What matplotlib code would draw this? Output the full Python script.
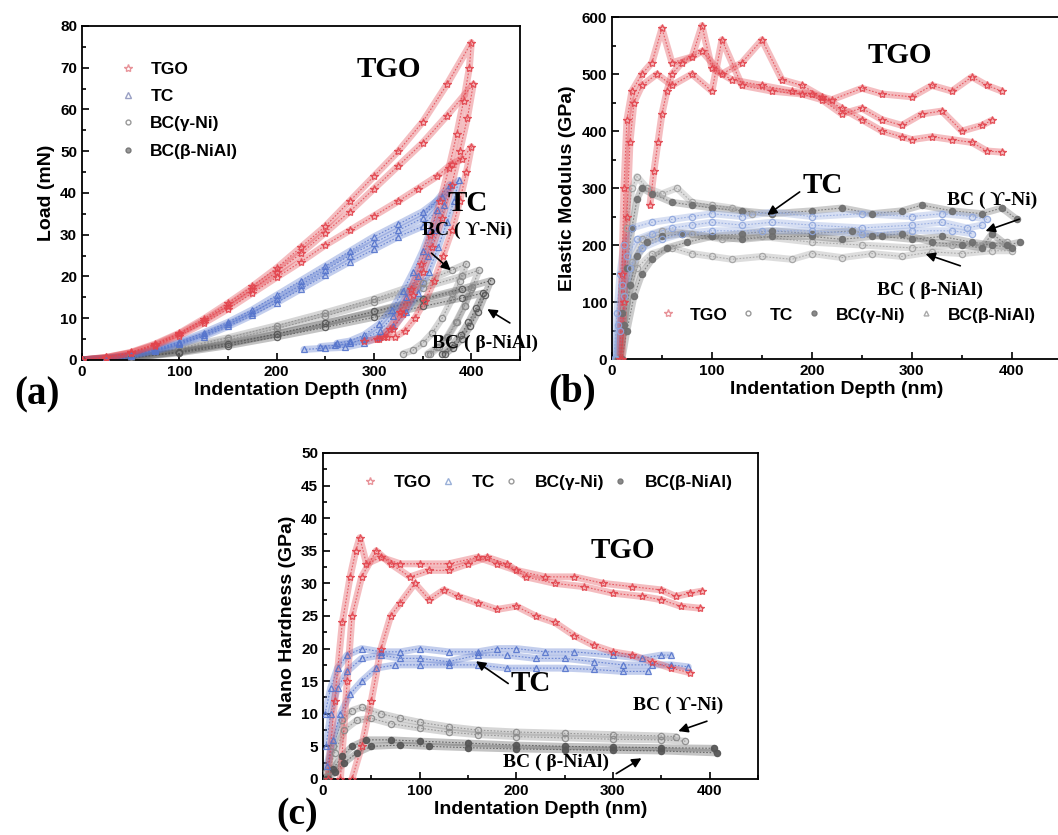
import matplotlib
matplotlib.use("Agg")
import matplotlib.pyplot as plt
from matplotlib.lines import Line2D
from matplotlib.ticker import MultipleLocator

plt.rcParams['font.family'] = ['Liberation Sans', 'DejaVu Sans']

# ---------------- (a) load vs depth: loading + unloading per loop ----------------
a_tgo1_d = [0, 25, 50, 75, 100, 125, 150, 175, 200, 225, 250, 275, 300, 325, 350, 375, 400,
            398, 392, 385, 377, 368, 358, 348, 338, 327, 316, 305, 290]
a_tgo1_p = [0, 0.6, 1.8, 3.8, 6.4, 9.8, 13.6, 17.6, 22, 27, 32, 38, 44, 50, 57, 66, 76,
            70, 62, 54, 46, 38, 30, 23, 17, 11.5, 7.5, 5, 4.5]
a_tgo2_d = [0, 25, 50, 75, 100, 125, 150, 175, 200, 225, 250, 275, 300, 325, 350, 375, 402,
            396, 388, 380, 370, 360, 350, 340, 330, 320, 310, 303]
a_tgo2_p = [0, 0.6, 1.7, 3.6, 6.2, 9.4, 13, 17, 21, 25.5, 30.5, 35.5, 41, 46.5, 52, 58.5, 66,
            58, 50, 42, 34, 27, 21, 15.5, 11, 7.5, 5.5, 5]
a_tgo3_d = [0, 25, 50, 75, 100, 125, 150, 175, 200, 225, 250, 275, 300, 325, 345, 365, 380, 390, 400,
            395, 388, 380, 371, 362, 352, 342, 332, 322, 313]
a_tgo3_p = [0, 0.5, 1.6, 3.4, 5.8, 8.8, 12.2, 16, 19.8, 23.5, 27.5, 31, 34.5, 38, 41, 44, 47, 48, 51,
            45, 38, 31, 25, 19, 14, 10, 7, 5.5, 5.5]

a_tc1_d = [0, 25, 50, 75, 100, 125, 150, 175, 200, 225, 250, 275, 300, 325, 350, 370, 387,
           382, 375, 366, 356, 345, 333, 320, 305, 290, 270, 250, 228]
a_tc1_p = [0, 0.4, 1.2, 2.5, 4.3, 6.5, 9, 12, 15.5, 19, 22.5, 26, 29.5, 32.5, 35.5, 39, 43,
           38, 33, 27, 21, 16, 11.5, 8, 5.5, 4, 3, 2.8, 2.5]
a_tc2_d = [0, 25, 50, 75, 100, 125, 150, 175, 200, 225, 250, 275, 300, 325, 350, 378,
           372, 364, 355, 345, 333, 320, 306, 290, 275, 260, 245]
a_tc2_p = [0, 0.4, 1.1, 2.3, 4, 6, 8.5, 11.3, 14.5, 18, 21.5, 25, 28, 31, 34, 42,
           37, 31, 25, 20, 15, 10.5, 7, 5, 4, 3.5, 3.2]
a_tc3_d = [0, 25, 50, 75, 100, 125, 150, 175, 200, 225, 250, 275, 300, 325, 350, 365,
           358, 350, 340, 330, 318, 305, 290, 275, 262]
a_tc3_p = [0, 0.3, 1, 2.1, 3.7, 5.6, 8, 10.7, 13.7, 17, 20.3, 23.5, 26.5, 29.5, 32, 36,
           31, 26, 21, 16.5, 12, 8.5, 6, 4.5, 4]

a_gni1_d = [0, 50, 100, 150, 200, 250, 300, 350, 380, 395, 388, 380, 370, 360, 350, 340, 330]
a_gni1_p = [0, 0.9, 2.8, 5.3, 8.2, 11.3, 14.6, 18.5, 21.5, 23, 19, 14.5, 10, 6.5, 4, 2.3, 1.5]
a_gni2_d = [0, 50, 100, 150, 200, 250, 300, 350, 390, 408, 401, 393, 384, 375, 365, 355]
a_gni2_p = [0, 0.8, 2.5, 4.8, 7.5, 10.5, 13.8, 17.3, 20, 21.5, 17.5, 13, 9, 5.5, 3, 1.5]
a_gni3_d = [0, 50, 100, 150, 200, 250, 300, 350, 380, 400, 393, 385, 376, 367, 358]
a_gni3_p = [0, 0.6, 2, 4, 6.3, 8.8, 11.4, 14.3, 16, 17, 13, 9, 5.5, 3, 1.5]

a_nial1_d = [0, 50, 100, 150, 200, 250, 300, 350, 390, 420, 414, 407, 399, 390, 381, 373]
a_nial1_p = [0, 0.5, 1.9, 3.8, 6.2, 8.8, 11.6, 14.6, 17, 19, 15.5, 11.5, 8, 5, 2.8, 1.5]
a_nial2_d = [0, 50, 100, 150, 200, 250, 300, 350, 390, 412, 405, 397, 389, 380, 370]
a_nial2_p = [0, 0.5, 1.7, 3.4, 5.5, 7.8, 10.2, 12.8, 14.8, 16, 12.5, 9, 6, 3.5, 1.5]

# ---------------- (b) elastic modulus vs depth ----------------
b_tgo1_d = [8, 10, 12, 15, 20, 30, 40, 50, 60, 80, 90, 100, 120, 150, 180, 200, 220, 250, 270, 300,
            320, 340, 360, 375, 390]
b_tgo1_e = [0, 150, 300, 420, 470, 500, 520, 580, 520, 530, 585, 510, 490, 480, 470, 465, 455, 475,
            465, 460, 480, 470, 495, 480, 470]
b_tgo2_d = [10, 12, 15, 18, 22, 30, 45, 60, 80, 100, 110, 130, 160, 190, 210, 230, 250, 270, 290,
            310, 330, 350, 370, 380]
b_tgo2_e = [0, 100, 250, 380, 450, 480, 500, 480, 500, 470, 560, 480, 470, 465, 455, 430, 440, 420,
            410, 430, 435, 400, 410, 419]
b_tgo3_d = [38, 42, 46, 50, 55, 60, 70, 90, 110, 130, 150, 170, 190, 210, 230, 250, 270, 290, 300,
            320, 340, 360, 375, 390]
b_tgo3_e = [270, 330, 380, 430, 470, 500, 520, 540, 500, 520, 560, 490, 480, 460, 440, 420, 400,
            390, 385, 390, 385, 380, 365, 363]

b_tc1_d = [2, 5, 8, 12, 20, 40, 60, 80, 100, 130, 160, 200, 250, 300, 330, 360, 375]
b_tc1_e = [0, 80, 150, 200, 230, 240, 245, 250, 255, 250, 258, 250, 255, 250, 255, 250, 245]
b_tc2_d = [3, 6, 10, 15, 25, 40, 60, 80, 100, 130, 160, 200, 250, 300, 330, 355, 370]
b_tc2_e = [0, 60, 130, 180, 210, 220, 230, 235, 240, 235, 240, 235, 230, 235, 240, 230, 235]
b_tc3_d = [4, 8, 12, 18, 30, 50, 70, 100, 150, 200, 250, 300, 340, 360]
b_tc3_e = [0, 50, 110, 160, 195, 210, 220, 225, 225, 225, 220, 225, 225, 220]

b_gni1_d = [6, 10, 15, 20, 25, 30, 40, 60, 80, 100, 130, 160, 200, 230, 260, 290, 310, 340, 370,
            390, 405]
b_gni1_e = [0, 80, 160, 230, 280, 300, 290, 275, 270, 265, 260, 255, 260, 265, 255, 260, 270, 260,
            255, 265, 245]
b_gni2_d = [8, 12, 18, 25, 35, 50, 70, 100, 130, 160, 200, 230, 260, 290, 320, 350, 370, 380, 395,
            408]
b_gni2_e = [0, 60, 130, 180, 205, 215, 220, 215, 210, 215, 215, 210, 215, 220, 205, 200, 195, 220,
            200, 205]
b_gni3_d = [10, 15, 22, 30, 40, 55, 75, 100, 130, 160, 200, 240, 270, 300, 330, 360, 380, 400]
b_gni3_e = [0, 50, 110, 150, 175, 195, 205, 215, 220, 225, 220, 225, 215, 210, 215, 205, 200, 195]

b_nial1_d = [5, 10, 15, 20, 25, 35, 50, 65, 80, 100, 120, 140]
b_nial1_e = [0, 120, 230, 300, 320, 300, 290, 300, 275, 270, 265, 255]
b_nial2_d = [8, 15, 25, 40, 60, 80, 100, 120, 150, 180, 200, 230, 260, 290, 320, 350, 380, 400]
b_nial2_e = [0, 100, 160, 185, 195, 185, 180, 175, 180, 175, 185, 178, 185, 180, 188, 185, 190, 190]
b_nial3_d = [6, 12, 20, 30, 50, 80, 110, 150, 200, 250, 300, 340, 370, 395]
b_nial3_e = [0, 90, 170, 210, 225, 220, 210, 215, 205, 200, 195, 200, 200, 205]

# ---------------- (c) nano hardness vs depth ----------------
c_tgo1_d = [5, 12, 20, 28, 34, 38, 45, 60, 80, 100, 130, 160, 180, 200, 230, 260, 290, 320, 350,
            365, 380, 392]
c_tgo1_h = [0, 12, 24, 31, 35, 37, 33, 34, 33, 33, 33, 34, 33, 32, 31, 31, 30, 29.5, 29, 28, 28.5,
            28.8]
c_tgo2_d = [18, 25, 30, 40, 55, 70, 90, 110, 130, 150, 170, 190, 210, 240, 270, 300, 330, 350, 370,
            390]
c_tgo2_h = [0, 15, 25, 31, 35, 33, 31, 32, 32, 33, 34, 33, 31, 30, 29.5, 28.5, 28, 27.5, 26.5, 26.2]
c_tgo3_d = [30, 40, 50, 60, 70, 80, 95, 110, 125, 140, 160, 180, 200, 220, 240, 260, 280, 300, 320,
            340, 360, 380]
c_tgo3_h = [0, 5, 12, 20, 25, 27, 30, 27.5, 29, 28, 27, 26, 26.5, 25, 24, 22, 20.5, 19.5, 19, 18, 17,
            16.3]

c_tc1_d = [2, 8, 15, 25, 40, 60, 80, 100, 130, 160, 180, 200, 230, 260, 300, 330, 350, 360]
c_tc1_h = [10, 14, 17, 19, 20, 19.5, 19.5, 20, 19.5, 19.5, 20, 20, 19.5, 19.5, 19, 18.5, 19, 19]
c_tc2_d = [3, 8, 15, 25, 40, 60, 80, 100, 130, 160, 190, 220, 250, 280, 310, 340, 360, 378]
c_tc2_h = [5, 10, 14, 16.5, 18.5, 19, 18.5, 18.5, 18, 19, 19, 18.5, 18.5, 18, 17.5, 17.5, 17.5, 17.2]
c_tc3_d = [4, 10, 18, 28, 40, 55, 75, 100, 130, 160, 190, 220, 250, 280, 310, 336]
c_tc3_h = [2, 6, 10, 13, 15, 17, 17.5, 17.5, 17.5, 17.5, 17, 17, 17, 16.8, 16.5, 16.5]

c_gni1_d = [3, 10, 20, 30, 40, 60, 80, 100, 130, 160, 200, 250, 300, 350, 365]
c_gni1_h = [1, 5, 9, 10.5, 11, 10, 9.3, 8.7, 8, 7.5, 7.2, 7, 6.8, 6.6, 6.5]
c_gni2_d = [5, 12, 22, 35, 50, 70, 100, 130, 160, 200, 250, 300, 350, 375]
c_gni2_h = [0.5, 4, 7.5, 9, 9.3, 8.5, 7.8, 7.2, 6.8, 6.5, 6.3, 6.1, 6, 5.8]

c_nial1_d = [3, 10, 20, 30, 45, 70, 100, 150, 200, 250, 300, 350, 405]
c_nial1_h = [0, 1.5, 3.5, 5, 6, 6, 5.8, 5.5, 5.2, 5, 4.9, 4.8, 4.7]
c_nial2_d = [5, 12, 22, 35, 50, 80, 110, 150, 200, 250, 300, 350, 408]
c_nial2_h = [0, 1, 2.5, 4, 5, 5.2, 5, 4.8, 4.6, 4.5, 4.4, 4.3, 4.0]

legend_labels = ['TGO', 'TC', 'BC(γ-Ni)', 'BC(β-NiAl)']

RED = '#e2434c'
BLUE = '#5574cc'
LBLUE = '#8ea6dd'
GREY = '#8a8a8a'
DGREY = '#555555'
SERIF = ['Liberation Serif', 'DejaVu Serif']


def band(ax, x, y, c, m, filled=False, ms=4.5, lw=5):
    ax.plot(x, y, color=c, lw=lw, alpha=0.35, solid_capstyle='round', solid_joinstyle='round', zorder=2)
    ax.plot(x, y, color=c, lw=0.8, alpha=0.8, ls=(0, (1.5, 1.5)), zorder=2)
    ax.plot(x, y, ls='none', marker=m, ms=ms, mfc=c if filled else 'none', mec=c, mew=0.9,
            alpha=0.9, zorder=3)


def style_axes(ax, ytop, ymaj, ymin):
    ax.set_xlim(0, 450)
    ax.set_ylim(0, ytop)
    ax.xaxis.set_major_locator(MultipleLocator(100))
    ax.xaxis.set_minor_locator(MultipleLocator(50))
    ax.yaxis.set_major_locator(MultipleLocator(ymaj))
    ax.yaxis.set_minor_locator(MultipleLocator(ymin))
    ax.tick_params(which='both', direction='in', labelsize=11, width=1.2)
    ax.tick_params(which='major', length=5)
    ax.tick_params(which='minor', length=3)
    for lbl in ax.get_xticklabels() + ax.get_yticklabels():
        lbl.set_fontweight('bold')
    for s in ax.spines.values():
        s.set_linewidth(1.3)
    ax.set_xlabel('Indentation Depth (nm)', fontsize=14, fontweight='bold', labelpad=2)


def arrow(ax, tail, head):
    ax.annotate('', xy=head, xytext=tail,
                arrowprops=dict(arrowstyle='-|>', color='black', lw=1.2, mutation_scale=14),
                annotation_clip=False)


def label(ax, x, y, s, size=21):
    ax.text(x, y, s, family=SERIF, fontweight='bold', fontsize=size, ha='center', va='center',
            clip_on=False, zorder=6)


def marker_handles(specs):
    return [Line2D([], [], ls='none', marker=m, ms=ms, mfc=fc, mec=ec) for m, ms, fc, ec in specs]


fig = plt.figure(figsize=(10.58, 8.35), dpi=100)

# ---------------- panel (a) ----------------
ax = fig.add_axes([0.0775, 0.569, 0.414, 0.40])
for d, p in [(a_gni1_d, a_gni1_p), (a_gni2_d, a_gni2_p), (a_gni3_d, a_gni3_p)]:
    band(ax, d, p, GREY, 'o')
for d, p in [(a_nial1_d, a_nial1_p), (a_nial2_d, a_nial2_p)]:
    band(ax, d, p, DGREY, 'o')
for d, p in [(a_tc1_d, a_tc1_p), (a_tc2_d, a_tc2_p), (a_tc3_d, a_tc3_p)]:
    band(ax, d, p, BLUE, '^', ms=5)
for d, p in [(a_tgo1_d, a_tgo1_p), (a_tgo2_d, a_tgo2_p), (a_tgo3_d, a_tgo3_p)]:
    band(ax, d, p, RED, '*', ms=6)
style_axes(ax, 80, 10, 5)
ax.set_ylabel('Load (mN)', fontsize=14, fontweight='bold', labelpad=4)
h = marker_handles([('*', 6, 'none', '#e8949a'), ('^', 4, 'none', '#9aa0c4'),
                    ('o', 3.5, 'none', '#999999'), ('o', 3.5, '#999999', '#777777')])
ax.legend(h, legend_labels, loc='upper left', bbox_to_anchor=(0.053, 0.94), frameon=False,
          handlelength=0.8, handletextpad=0.9, labelspacing=0.7,
          prop=dict(weight='bold', size=12.5))
label(ax, 315, 69.5, 'TGO')
label(ax, 396, 37.5, 'TC')
label(ax, 396, 31, 'BC ( ϒ-Ni)', size=14)
label(ax, 414, 4, 'BC ( β-NiAl)', size=14)
arrow(ax, (357, 26), (381, 21))
arrow(ax, (442, 8.5), (414, 12.5))
fig.text(0.035, 0.527, '(a)', family=SERIF, fontweight='bold', fontsize=28, ha='center', va='center')

# ---------------- panel (b) ----------------
ax = fig.add_axes([0.5784, 0.570, 0.4253, 0.4096])
for d, e in [(b_nial1_d, b_nial1_e), (b_nial2_d, b_nial2_e), (b_nial3_d, b_nial3_e)]:
    band(ax, d, e, '#a0a0a0', 'o')
for d, e in [(b_gni1_d, b_gni1_e), (b_gni2_d, b_gni2_e), (b_gni3_d, b_gni3_e)]:
    band(ax, d, e, '#6e6e6e', 'o', filled=True)
for d, e in [(b_tc1_d, b_tc1_e), (b_tc2_d, b_tc2_e), (b_tc3_d, b_tc3_e)]:
    band(ax, d, e, LBLUE, 'o')
for d, e in [(b_tgo1_d, b_tgo1_e), (b_tgo2_d, b_tgo2_e), (b_tgo3_d, b_tgo3_e)]:
    band(ax, d, e, RED, '*', ms=6)
style_axes(ax, 600, 100, 50)
ax.set_ylabel('Elastic Modulus (GPa)', fontsize=14, fontweight='bold', labelpad=4)
h = marker_handles([('*', 6, 'none', '#e8949a'), ('o', 3.5, 'none', '#999999'),
                    ('o', 3.5, '#8a8a8a', '#777777'), ('^', 3.5, 'none', '#aaaaaa')])
ax.legend(h, legend_labels, loc='center left', bbox_to_anchor=(0.093, 0.129), frameon=False, ncol=4,
          handlelength=0.8, handletextpad=0.86, columnspacing=0.8, borderaxespad=0,
          prop=dict(weight='bold', size=12.5))
label(ax, 288, 533, 'TGO')
label(ax, 211, 305, 'TC')
label(ax, 380, 279, 'BC ( ϒ-Ni)', size=14)
label(ax, 318, 121, 'BC ( β-NiAl)', size=14)
arrow(ax, (190, 296), (153, 250))
arrow(ax, (410, 247), (371, 223))
arrow(ax, (351, 162), (311, 186))
fig.text(0.541, 0.531, '(b)', family=SERIF, fontweight='bold', fontsize=28, ha='center', va='center')

# ---------------- panel (c) ----------------
ax = fig.add_axes([0.3053, 0.0671, 0.411, 0.3904])
for d, hh in [(c_gni1_d, c_gni1_h), (c_gni2_d, c_gni2_h)]:
    band(ax, d, hh, GREY, 'o')
for d, hh in [(c_nial1_d, c_nial1_h), (c_nial2_d, c_nial2_h)]:
    band(ax, d, hh, DGREY, 'o', filled=True)
for d, hh in [(c_tc1_d, c_tc1_h), (c_tc2_d, c_tc2_h), (c_tc3_d, c_tc3_h)]:
    band(ax, d, hh, BLUE, '^', ms=5)
for d, hh in [(c_tgo1_d, c_tgo1_h), (c_tgo2_d, c_tgo2_h), (c_tgo3_d, c_tgo3_h)]:
    band(ax, d, hh, RED, '*', ms=6)
style_axes(ax, 50, 5, 2.5)
ax.set_ylabel('Nano Hardness (GPa)', fontsize=14, fontweight='bold', labelpad=4)
h = marker_handles([('*', 6, 'none', '#e8949a'), ('^', 4, 'none', '#9ab0d8'),
                    ('o', 3.5, 'none', '#999999'), ('o', 3.5, '#8a8a8a', '#777777')])
ax.legend(h, legend_labels, loc='center left', bbox_to_anchor=(0.076, 0.911), frameon=False, ncol=4,
          handlelength=0.8, handletextpad=1.0, columnspacing=0.5, borderaxespad=0,
          prop=dict(weight='bold', size=12.5))
label(ax, 310, 35, 'TGO')
label(ax, 215, 14.7, 'TC')
label(ax, 368, 11.3, 'BC ( ϒ-Ni)', size=14)
label(ax, 241, 2.6, 'BC ( β-NiAl)', size=14)
arrow(ax, (194, 14.4), (156, 18.3))
arrow(ax, (400, 9), (365, 7.2))
arrow(ax, (301, 0.6), (332, 3.4))
fig.text(0.281, 0.025, '(c)', family=SERIF, fontweight='bold', fontsize=27, ha='center', va='center')

fig.savefig('out.png', dpi=100)
